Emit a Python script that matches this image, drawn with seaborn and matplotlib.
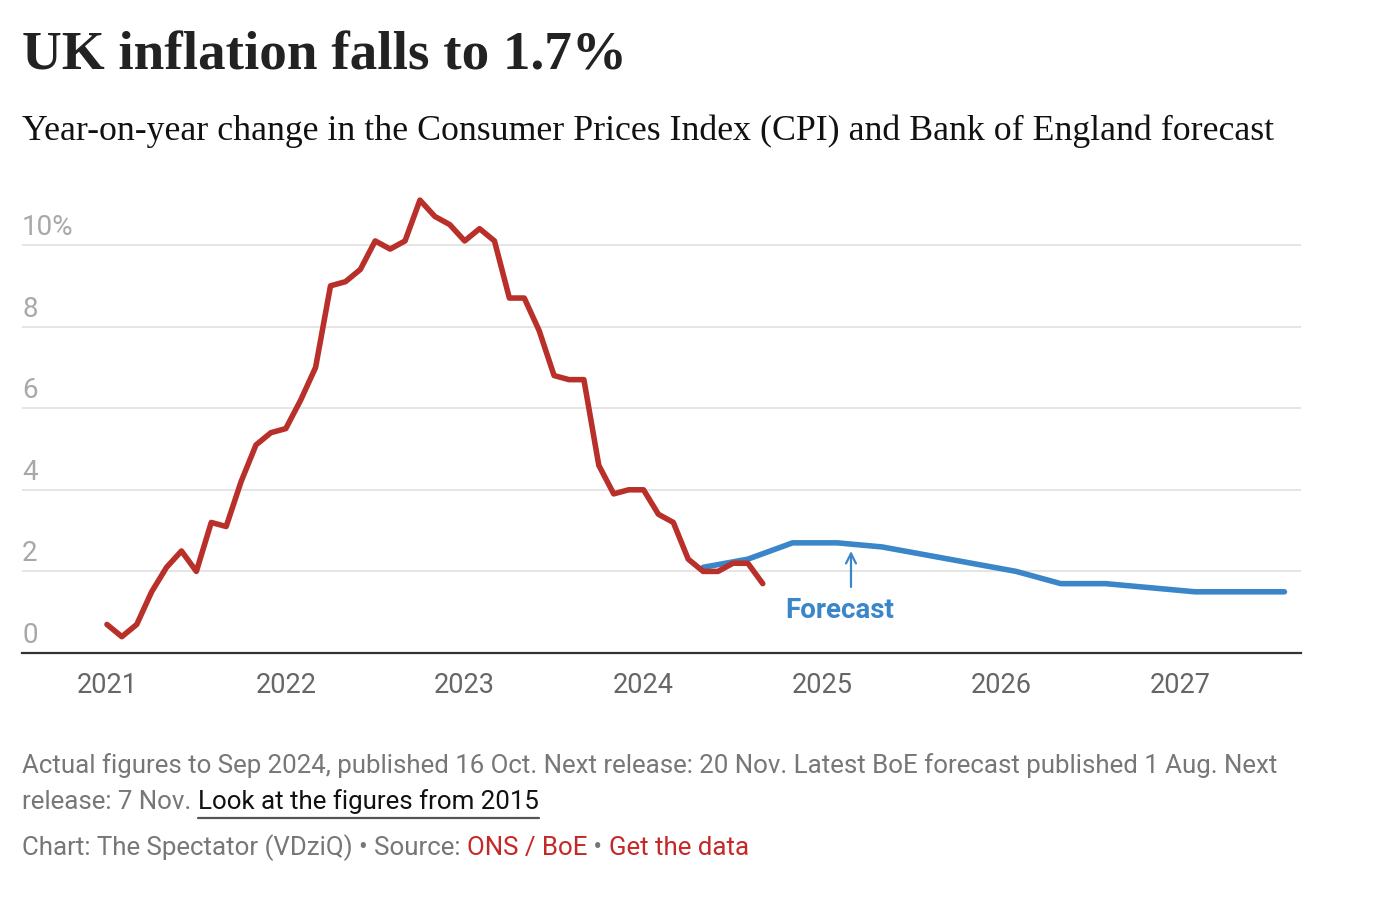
import matplotlib
matplotlib.use("Agg")
import matplotlib.pyplot as plt
import matplotlib.transforms as mtransforms
import seaborn as sns
import pandas as pd
import numpy as np

# ---------------- data ----------------
cpi_start, cpi_end = "2021-01", "2024-09"
cpi_values = [0.7, 0.4, 0.7, 1.5, 2.1, 2.5, 2.0, 3.2, 3.1, 4.2, 5.1, 5.4,
              5.5, 6.2, 7.0, 9.0, 9.1, 9.4, 10.1, 9.9, 10.1, 11.1, 10.7, 10.5,
              10.1, 10.4, 10.1, 8.7, 8.7, 7.9, 6.8, 6.7, 6.7, 4.6, 3.9, 4.0,
              4.0, 3.4, 3.2, 2.3, 2.0, 2.0, 2.2, 2.2, 1.7]
forecast_quarters = ["2024Q2", "2024Q3", "2024Q4", "2025Q1", "2025Q2", "2025Q3",
                     "2025Q4", "2026Q1", "2026Q2", "2026Q3", "2026Q4", "2027Q1",
                     "2027Q2", "2027Q3"]
forecast_values = [2.1, 2.3, 2.7, 2.7, 2.6, 2.4, 2.2, 2.0, 1.7, 1.7, 1.6, 1.5, 1.5, 1.5]
y_ticks = [0, 2, 4, 6, 8, 10]
y_tick_labels = ["0", "2", "4", "6", "8", "10%"]
x_years = [2021, 2022, 2023, 2024, 2025, 2026, 2027]

title = "UK inflation falls to 1.7%"
subtitle = "Year-on-year change in the Consumer Prices Index (CPI) and Bank of England forecast"
note1 = "Actual figures to Sep 2024, published 16 Oct. Next release: 20 Nov. Latest BoE forecast published 1 Aug. Next"
note2a = "release: 7 Nov. "
note2b = "Look at the figures from 2015"
credit = [("Chart: The Spectator (VDziQ) \u2022 Source: ", "grey"), ("ONS / BoE", "red"),
          (" \u2022 ", "grey"), ("Get the data", "red")]

# ---------------- build frames ----------------
months = pd.period_range(cpi_start, cpi_end, freq="M")
cpi_df = pd.DataFrame({"t": months.year + (months.month - 1) / 12.0, "v": cpi_values})
q = pd.PeriodIndex(forecast_quarters, freq="Q")
fc_df = pd.DataFrame({"t": q.year + (q.quarter * 3 - 2) / 12.0, "v": forecast_values})

RED = "#b83029"
BLUE = "#3a86c9"
GREY_TXT = "#777777"
LINK_RED = "#c62828"

W, H = 1380, 914
sns.set_theme(style="white")
plt.rcParams["font.family"] = ["Roboto", "DejaVu Sans"]

fig = plt.figure(figsize=(W / 100, H / 100), dpi=100)
px_l, px_r, px_bottom = 22, 1301, 653
unit = 40.8
ymax = 11.4
ax = fig.add_axes([px_l / W, (H - px_bottom) / H, (px_r - px_l) / W, ymax * unit / H])

sns.lineplot(data=fc_df, x="t", y="v", ax=ax, color=BLUE, linewidth=4.0,
             solid_capstyle="round", solid_joinstyle="round", zorder=3)
sns.lineplot(data=cpi_df, x="t", y="v", ax=ax, color=RED, linewidth=4.0,
             solid_capstyle="round", solid_joinstyle="round", zorder=4)

x_left = 2021 - 85 / 179.0
x_right = 2027 + 121 / 179.0
ax.set_xlim(x_left, x_right)
ax.set_ylim(0, ymax)
ax.set_xlabel("")
ax.set_ylabel("")

for s in ["top", "right", "left"]:
    ax.spines[s].set_visible(False)
ax.spines["bottom"].set_color("#333333")
ax.spines["bottom"].set_linewidth(1.6)
ax.spines["bottom"].set_zorder(5)

ax.set_yticks(y_ticks)
ax.set_yticklabels([])
ax.tick_params(axis="y", length=0)
for yv in y_ticks[1:]:
    ax.axhline(yv, color="#e3e3e3", linewidth=1.3, zorder=1)

trans = mtransforms.blended_transform_factory(ax.transAxes, ax.transData)
trans_up = mtransforms.offset_copy(trans, fig=fig, x=0, y=10, units="dots")
for yv, lab in zip(y_ticks, y_tick_labels):
    ax.text(0, yv, lab, transform=trans_up, ha="left", va="baseline",
            fontsize=20, color="#a8a8a8")

ax.set_xticks(x_years)
ax.set_xticklabels([str(y) for y in x_years], fontsize=19.5, color="#666666")
ax.tick_params(axis="x", length=0, pad=14)

# Forecast annotation
ax.annotate("", xy=(2025.16, 2.5), xytext=(2025.16, 1.62),
            arrowprops=dict(arrowstyle="->", color=BLUE, lw=1.6,
                            mutation_scale=18, shrinkA=0, shrinkB=0), zorder=6)
ax.text(2025.095, 1.03, "Forecast", ha="center", va="center", fontsize=20,
        fontweight="bold", color=BLUE)

# ---------------- titles and notes ----------------
renderer = fig.canvas.get_renderer()


def fit_text(x, y, s, target_w, size, **kw):
    t = fig.text(x / W, 1 - y / H, s, fontsize=size, **kw)
    w = t.get_window_extent(renderer).width
    t.set_fontsize(size * target_w / w)
    return t


fit_text(22, 70, title, 605, 44, family=["Liberation Serif", "DejaVu Serif"],
         fontweight="bold", color="#222222", va="baseline")
fit_text(22, 140, subtitle, 1253, 28, family=["Liberation Serif", "DejaVu Serif"],
         color="#111111", va="baseline")
t1 = fit_text(22, 773, note1, 1254, 17.5, color=GREY_TXT, va="baseline")
fsz = t1.get_fontsize()

t2 = fig.text(22 / W, 1 - 809 / H, note2a, fontsize=fsz, color=GREY_TXT, va="baseline")
w2 = t2.get_window_extent(renderer).width
t3 = fig.text((22 + w2) / W, 1 - 809 / H, note2b, fontsize=fsz, color="#111111", va="baseline")
w3 = t3.get_window_extent(renderer).width
fig.add_artist(plt.Line2D([(22 + w2) / W, (22 + w2 + w3) / W], [1 - 818 / H, 1 - 818 / H],
                          color="#555555", linewidth=1.6))

xcur = 22
for s, c in credit:
    col = GREY_TXT if c == "grey" else LINK_RED
    t = fig.text(xcur / W, 1 - 855 / H, s, fontsize=fsz, color=col, va="baseline")
    xcur += t.get_window_extent(renderer).width

fig.savefig("out.png", dpi=100, facecolor="white")
